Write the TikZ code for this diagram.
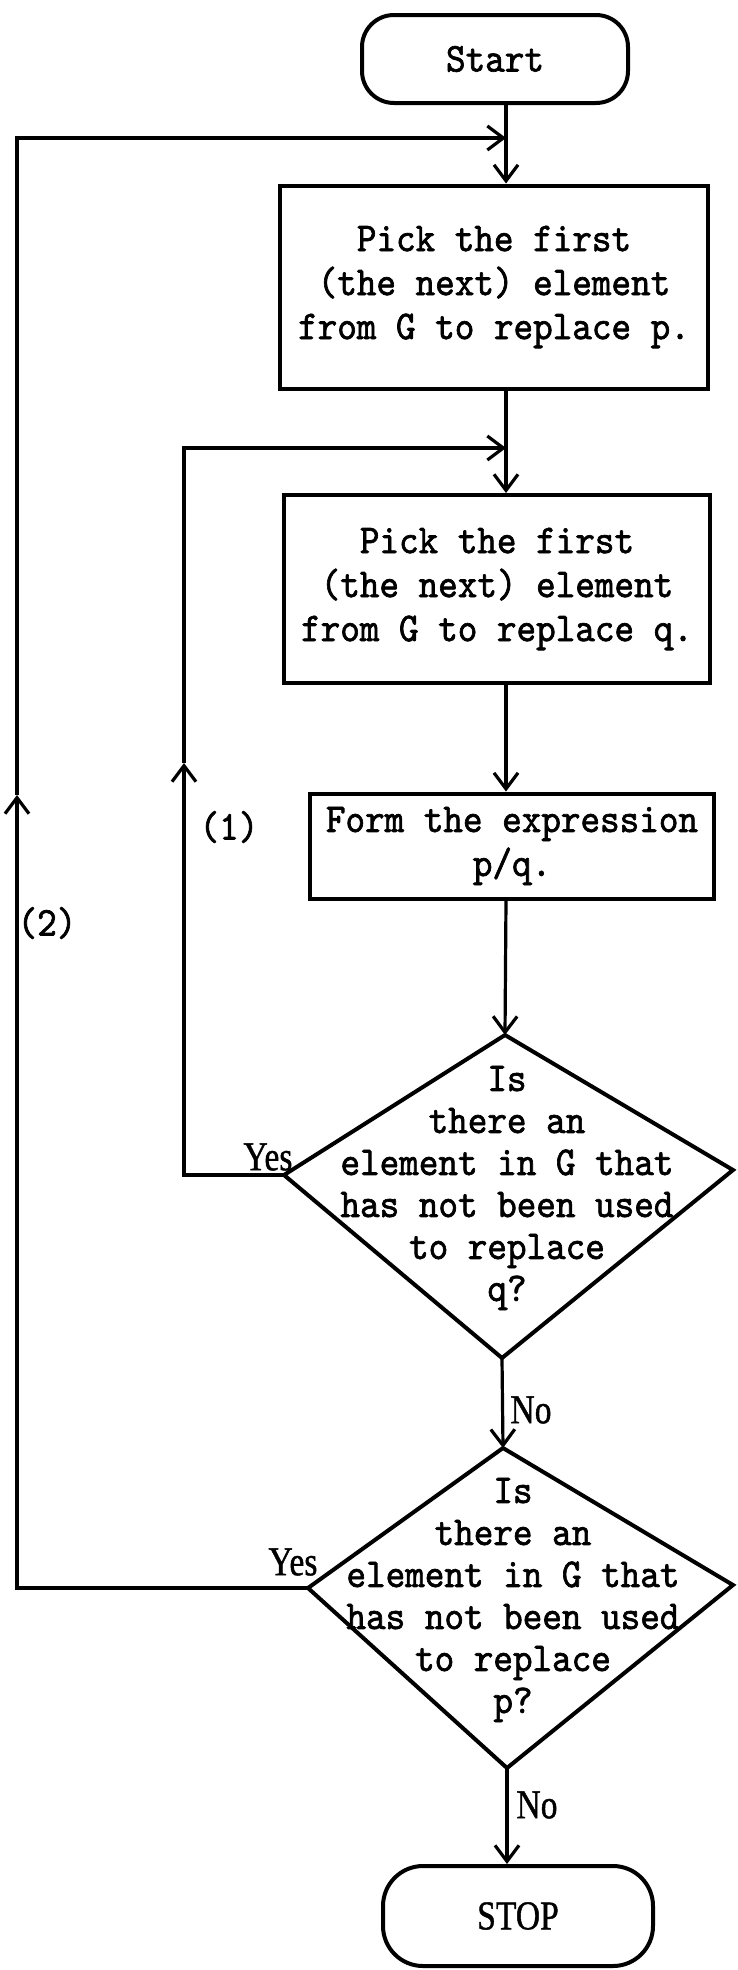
\documentclass[tikz,border=0pt]{standalone}
\usepackage{fontspec}
\newfontfamily\twfam[FakeStretch=0.91,FakeBold=1.6]{lmmono10-regular.otf}
\newfontfamily\serfam[FakeStretch=0.82,FakeBold=1]{Liberation Serif}
\newcommand\twf{\twfam\fontsize{41}{44}\selectfont}
\newcommand\twd{\twfam\fontsize{41}{42}\selectfont}
\newcommand\twsmall{\twfam\fontsize{41}{44}\selectfont}
\newcommand\serf{\serfam\fontsize{41}{42}\selectfont}
\usetikzlibrary{arrows.meta}
\begin{document}
\begin{tikzpicture}[x=1pt,y=-1pt,
  box/.style={draw, line width=4pt, inner sep=0pt, align=center, font=\twf},
  dshape/.style={draw, line width=4pt, line join=miter},
  dtext/.style={align=center, font=\twd, inner sep=0pt},
  conn/.style={line width=3.2pt},
  arr/.style={-{Straight Barb[length=16pt,width=24pt]}},
  lab/.style={font=\serf, inner sep=0pt},
  twlab/.style={font=\twsmall, inner sep=0pt}]
\useasboundingbox (0,0) rectangle (737,1970);

% process boxes
\node[box, rounded corners=32pt, minimum width=266pt, minimum height=88pt] (start) at (495,59) {Start};
\node[box, minimum width=428pt, minimum height=203pt] (b1) at (494,287) {Pick the first\\(the next) element\\from G to replace p.};
\node[box, minimum width=426pt, minimum height=188pt] (b2) at (497,589) {Pick the first\\(the next) element\\from G to replace q.};
\node[box, minimum width=404pt, minimum height=105pt] (b3) at (512,846) {Form the expression\\p/q.};
\node[box, font=\serf, rounded corners=40pt, minimum width=270pt, minimum height=100pt] (stop) at (518,1916) {STOP};

% decision 1
\coordinate (d1t) at (505,1035);
\coordinate (d1r) at (733,1170);
\coordinate (d1b) at (502,1358);
\coordinate (d1l) at (284,1175);
\draw[dshape] (d1t) -- (d1r) -- (d1b) -- (d1l) -- cycle;
\node[dtext] (q1) at (507,1188) {Is\\there an\\element in G that\\has not been used\\to replace\\q?};

% decision 2
\coordinate (d2t) at (503,1448);
\coordinate (d2r) at (733,1585);
\coordinate (d2b) at (507,1768);
\coordinate (d2l) at (308,1588);
\draw[dshape] (d2t) -- (d2r) -- (d2b) -- (d2l) -- cycle;
\node[dtext] (q2) at (513,1600) {Is\\there an\\element in G that\\has not been used\\to replace\\p?};

% main flow
\coordinate (cx) at (506,0);
\coordinate (j2) at (506,138);
\coordinate (j1) at (506,448);
\draw[conn] (start.south -| cx) -- (j2);
\draw[conn,arr] (j2) -- (b1.north -| cx);
\draw[conn] (b1.south -| cx) -- (j1);
\draw[conn,arr] (j1) -- (b2.north -| cx);
\draw[conn,arr] (b2.south -| cx) -- (b3.north -| cx);
\draw[conn,arr] (b3.south -| cx) -- (d1t);
\draw[conn,arr] (d1b) -- (d2t);
\draw[conn,arr] (d2b) -- (stop.north -| d2b);

% loop (1)
\coordinate (l1a) at (184,1175);
\coordinate (l1m) at (184,763);
\coordinate (l1b) at (184,448);
\draw[conn,arr] (d1l) -- (l1a) -- (l1m);
\draw[conn,arr] (l1m) -- (l1b) -- (j1);

% loop (2)
\coordinate (l2a) at (17,1588);
\coordinate (l2m) at (17,795);
\coordinate (l2b) at (17,138);
\draw[conn,arr] (d2l) -- (l2a) -- (l2m);
\draw[conn,arr] (l2m) -- (l2b) -- (j2);

% labels
\node[lab] (yes1) at (268,1157) {Yes};
\node[lab] (yes2) at (293,1562) {Yes};
\node[lab] (no1) at (531,1410) {No};
\node[lab] (no2) at (537,1805) {No};
\node[twlab] (lab1) at (229,827) {(1)};
\node[twlab] (lab2) at (47,923) {(2)};
\end{tikzpicture}
\end{document}
